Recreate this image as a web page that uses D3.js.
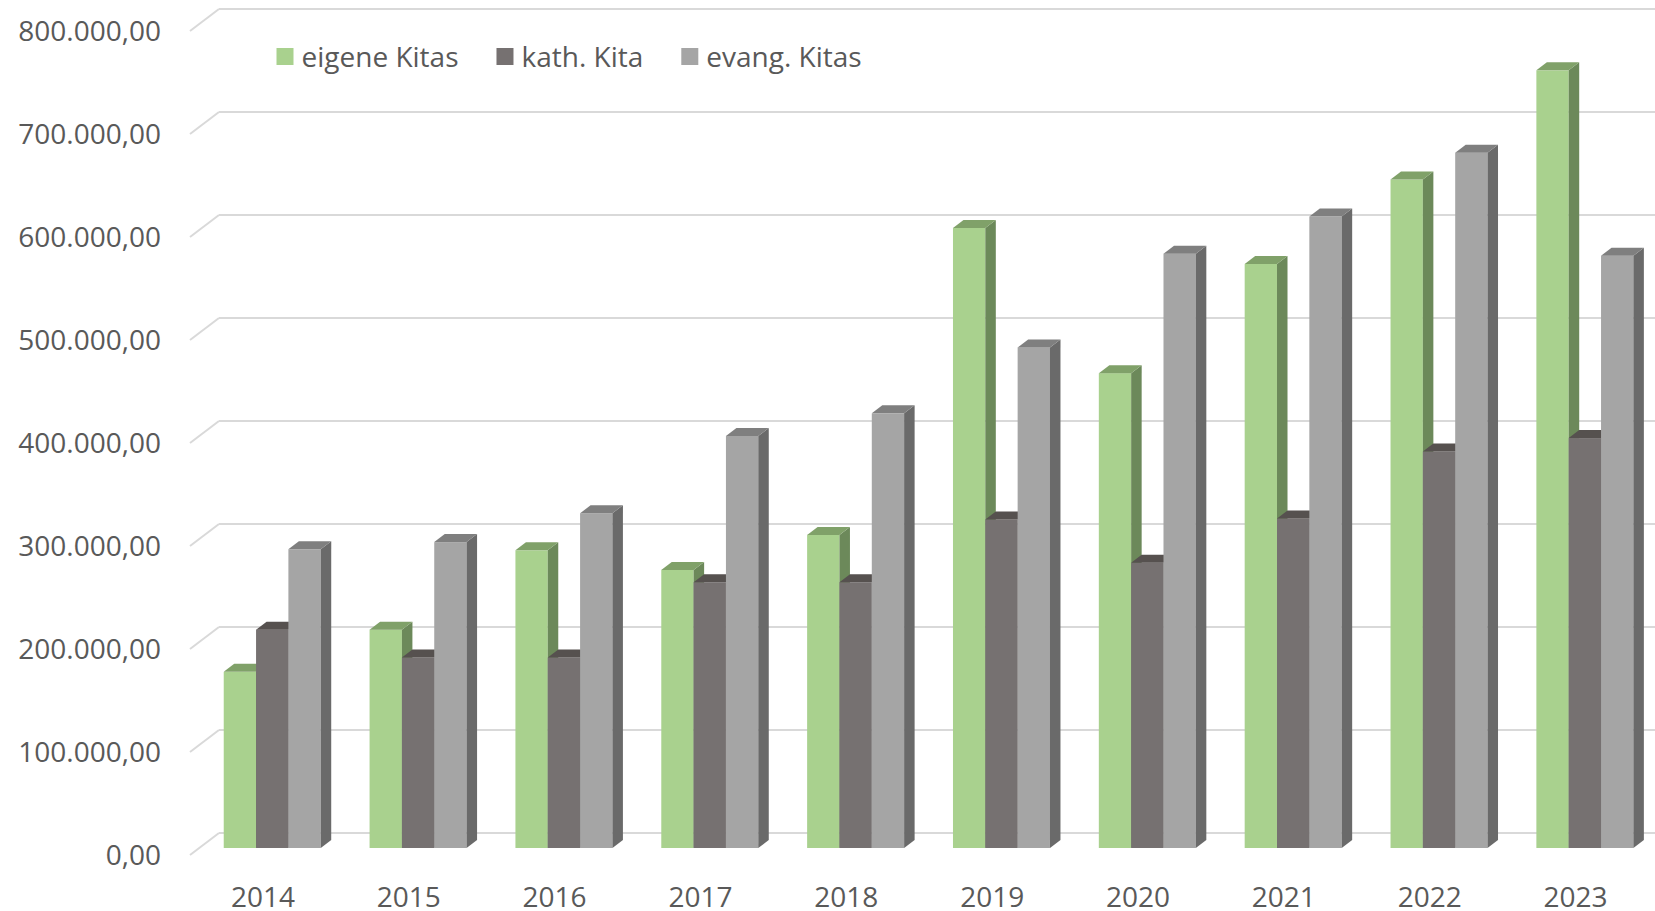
<!DOCTYPE html>
<html>
<head>
<meta charset="utf-8">
<script src="https://cdn.jsdelivr.net/npm/d3@7"></script>
<style>
    body { margin: 0; background: #fff; }
    text { font-family: "Open Sans", sans-serif; fill: #595959; }
</style>
</head>
<body>
<div id="chart"></div>
<script>
var years = ["2014", "2015", "2016", "2017", "2018", "2019", "2020", "2021", "2022", "2023"];
var seriesNames = ["eigene Kitas", "kath. Kita", "evang. Kitas"];
var eigene = [171000, 212000, 289000, 270000, 304000, 602000, 461000, 567000, 649000, 755000];
var kath = [212000, 185000, 185000, 258000, 258000, 319000, 277000, 320000, 385000, 398000];
var evang = [290000, 297000, 325000, 400000, 422000, 486000, 577000, 613000, 675000, 575000];
var yTicks = [0, 100000, 200000, 300000, 400000, 500000, 600000, 700000, 800000];

var width = 1655, height = 911;
var depthX = 29, depthY = 22;          // floor depth (front -> back wall)
var barOffX = 9.3, barOffY = 7;        // bar front plane sits inside the floor
var barDX = 10.5, barDY = 8;           // bar depth

var colors = {
    "eigene Kitas": {front: "#A9D18E", top: "#80A169", side: "#6C895A"},
    "kath. Kita": {front: "#767171", top: "#56514F", side: "#5C5857"},
    "evang. Kitas": {front: "#A5A5A5", top: "#7F7F7F", side: "#6A6A6A"}
};

var seriesData = [eigene, kath, evang];

var svg = d3.select("#chart").append("svg")
    .attr("width", width)
    .attr("height", height);

// scales on the front edge of the floor
var x0 = d3.scaleBand()
    .domain(years)
    .range([190, 190 + 145.85 * years.length])
    .paddingInner(0.335)
    .paddingOuter(0.1675);

var x1 = d3.scaleBand()
    .domain(seriesNames)
    .range([0, x0.bandwidth()]);

var y = d3.scaleLinear()
    .domain([0, 800000])
    .range([855, 31]);

// gridlines: short diagonal on the side wall + line along the back wall
var grid = svg.append("g");
yTicks.forEach(function (t) {
    grid.append("line")
        .attr("x1", 190).attr("y1", y(t))
        .attr("x2", 190 + depthX).attr("y2", y(t) - depthY)
        .attr("stroke", "#D9D9D9").attr("stroke-width", 2);
    grid.append("line")
        .attr("x1", 190 + depthX).attr("y1", y(t) - depthY)
        .attr("x2", width).attr("y2", y(t) - depthY)
        .attr("stroke", "#D9D9D9").attr("stroke-width", 2);
});

// y labels
svg.append("g").selectAll("text")
    .data(yTicks)
    .enter()
    .append("text")
    .attr("x", 161)
    .attr("y", function (d) { return y(d); })
    .attr("dy", "0.36em")
    .attr("text-anchor", "end")
    .style("font-size", "28px")
    .text(function (d) {
        return d3.format(",.2f")(d).replace(/,/g, "#").replace(".", ",").replace(/#/g, ".");
    });

// x labels
svg.append("g").selectAll("text")
    .data(years)
    .enter()
    .append("text")
    .attr("x", function (d) { return x0(d) + x0.bandwidth() / 2; })
    .attr("y", 897)
    .attr("dy", "0.36em")
    .attr("text-anchor", "middle")
    .style("font-size", "28px")
    .text(function (d) { return d; });

// bars, drawn left to right so each front face hides the previous side face
var bars = svg.append("g");
var baseY = y(0) - barOffY;
years.forEach(function (yr, i) {
    seriesNames.forEach(function (s, j) {
        var v = seriesData[j][i];
        var xl = x0(yr) + x1(s) + barOffX;
        var xr = xl + x1.bandwidth();
        var yt = y(v) - barOffY;
        var c = colors[s];

        bars.append("rect")
            .attr("x", xl).attr("y", yt)
            .attr("width", xr - xl).attr("height", baseY - yt)
            .attr("fill", c.front);

        bars.append("path")
            .attr("d", "M" + xr + "," + yt + "L" + (xr + barDX) + "," + (yt - barDY) +
                "L" + (xr + barDX) + "," + (baseY - barDY) + "L" + xr + "," + baseY + "Z")
            .attr("fill", c.side);

        bars.append("path")
            .attr("d", "M" + xl + "," + yt + "L" + (xl + barDX) + "," + (yt - barDY) +
                "L" + (xr + barDX) + "," + (yt - barDY) + "L" + xr + "," + yt + "Z")
            .attr("fill", c.top);
    });
});

// legend
var legend = svg.append("g");
var lx = 276.5;
seriesNames.forEach(function (s) {
    legend.append("rect")
        .attr("x", lx).attr("y", 48)
        .attr("width", 17).attr("height", 17)
        .attr("fill", colors[s].front);
    var t = legend.append("text")
        .attr("x", lx + 25).attr("y", 57)
        .attr("dy", "0.36em")
        .style("font-size", "28px")
        .text(s);
    lx += 25 + t.node().getComputedTextLength() + 38;
});
</script>
</body>
</html>
